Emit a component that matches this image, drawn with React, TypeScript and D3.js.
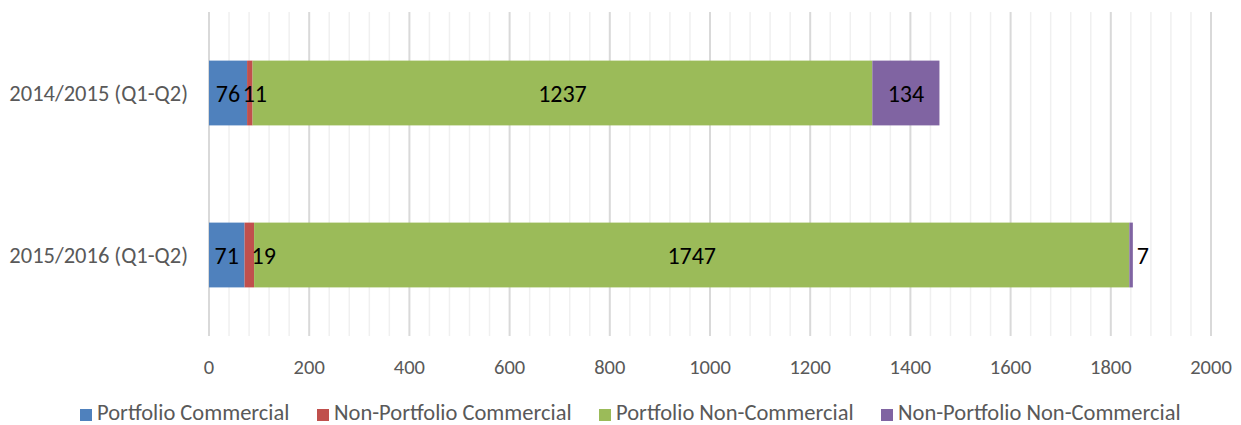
import React from 'react';
import * as d3 from 'd3';

const categories = ['2014/2015 (Q1-Q2)', '2015/2016 (Q1-Q2)'];
const seriesNames = ['Portfolio Commercial', 'Non-Portfolio Commercial', 'Portfolio Non-Commercial', 'Non-Portfolio Non-Commercial'];
const seriesColors = ['#4f81bd', '#c0504d', '#9bbb59', '#8064a2'];
const portfolioCommercial = [76, 71];
const nonPortfolioCommercial = [11, 19];
const portfolioNonCommercial = [1237, 1747];
const nonPortfolioNonCommercial = [134, 7];
const xTicks = [0, 200, 400, 600, 800, 1000, 1200, 1400, 1600, 1800, 2000];

const W = 1241;
const H = 425;
const FONT = 'Carlito, Lato, "Open Sans", sans-serif';

const legendX = [80, 317, 599, 881];

const App = () => {
  const margin = { top: 12, right: 30, bottom: 89, left: 209 };
  const x = d3.scaleLinear().domain([0, 2000]).range([margin.left, 1211]);
  const y = d3.scaleBand().domain(categories).range([margin.top, H - margin.bottom]).paddingInner(0.6).paddingOuter(0.3);

  const values = [portfolioCommercial, nonPortfolioCommercial, portfolioNonCommercial, nonPortfolioNonCommercial];
  const rows = categories.map((c, i) => {
    const obj: any = { cat: c };
    seriesNames.forEach((s, j) => (obj[s] = values[j][i]));
    return obj;
  });
  const stacked = d3.stack().keys(seriesNames)(rows);
  const minorTicks = d3.range(0, 2001, 40);

  return (
    <svg width={W} height={H} style={{ position: 'absolute', left: 0, top: 0 }}>
      <rect width={W} height={H} fill="#fff" />
      {minorTicks.map(t => (
        <line key={t} x1={x(t)} x2={x(t)} y1={margin.top} y2={H - margin.bottom}
          stroke={t % 200 === 0 ? '#d9d9d9' : '#f0f0f0'} strokeWidth={t % 200 === 0 ? 2 : 1.5} />
      ))}
      {stacked.map((layer, j) => (
        <g key={layer.key}>
          {layer.map((d, i) => (
            <rect key={i} x={x(d[0])} width={x(d[1]) - x(d[0])} y={y(categories[i])} height={y.bandwidth()} fill={seriesColors[j]} />
          ))}
        </g>
      ))}
      {stacked.map((layer, j) => layer.map((d, i) => {
        const v = d[1] - d[0];
        const w = x(d[1]) - x(d[0]);
        const cy = (y(categories[i]) as number) + y.bandwidth() / 2;
        const last = j === seriesNames.length - 1;
        let tx = (x(d[0]) + x(d[1])) / 2;
        let anchor = 'middle';
        if (last && w < 20) { tx = x(d[1]) + 4; anchor = 'start'; }
        else if (w < 20 && v > 15) { tx = x(d[0]) + 7; anchor = 'start'; }
        else if (w < 20) { tx += 5; }
        return (
          <text key={`${j}-${i}`} x={tx} y={cy} dy="0.36em" textAnchor={anchor} fontFamily={FONT} fontSize={24} fill="#000">{v}</text>
        );
      }))}
      {categories.map(c => (
        <text key={c} x={188} y={(y(c) as number) + y.bandwidth() / 2} dy="0.36em" textAnchor="end" fontFamily={FONT} fontSize={22.5} fill="#595959">{c}</text>
      ))}
      {xTicks.map(t => (
        <text key={t} x={x(t)} y={367} dy="0.36em" textAnchor="middle" fontFamily={FONT} fontSize={20.5} fill="#595959">{t}</text>
      ))}
      {seriesNames.map((s, j) => (
        <g key={s} transform={`translate(${legendX[j]},0)`}>
          <rect x={0} y={409} width={12} height={12} fill={seriesColors[j]} />
          <text x={17} y={420} fontFamily={FONT} fontSize={22.5} fill="#595959">{s}</text>
        </g>
      ))}
    </svg>
  );
};

export default App;
